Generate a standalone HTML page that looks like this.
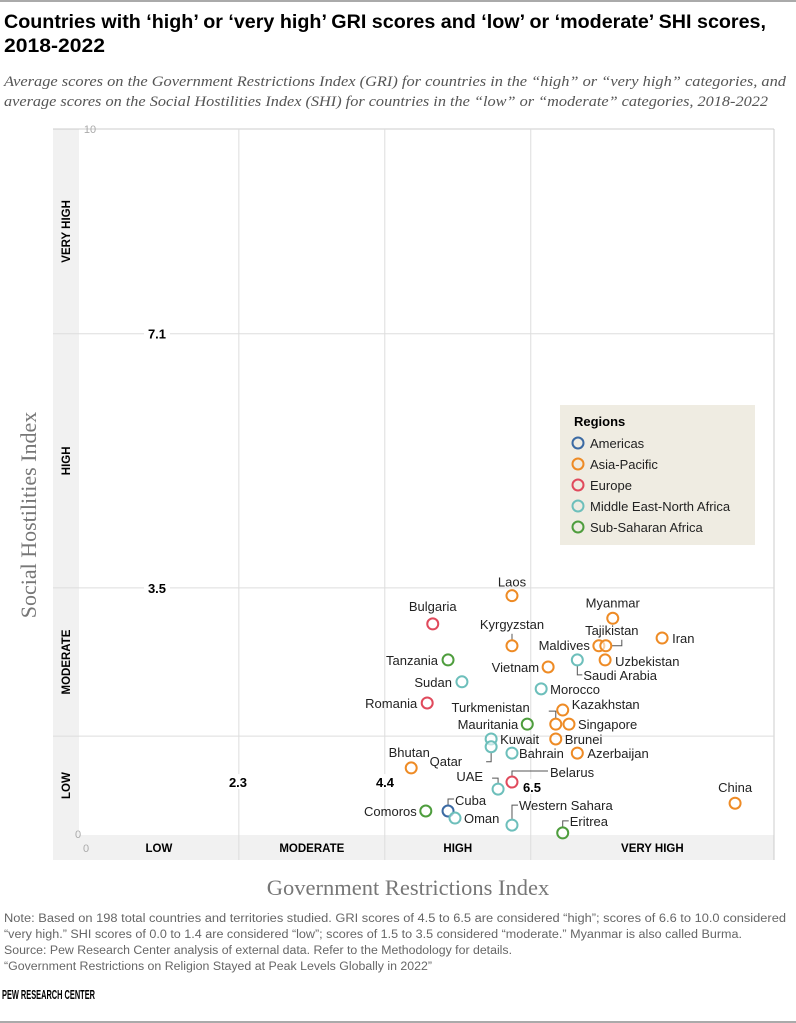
<!DOCTYPE html>
<html><head><meta charset="utf-8"><style>
body{margin:0;background:#fff;width:796px;height:1023px;overflow:hidden;font-family:"Liberation Sans",sans-serif}
svg{display:block}
</style></head><body>
<svg width="796" height="1023" viewBox="0 0 796 1023" xmlns="http://www.w3.org/2000/svg" id="chart">
<rect x="0" y="0" width="796" height="2" fill="#aaa"/>
<text x="4" y="28" font-size="19" font-weight="bold" fill="#000" textLength="762" lengthAdjust="spacingAndGlyphs">Countries with ‘high’ or ‘very high’ GRI scores and ‘low’ or ‘moderate’ SHI scores,</text>
<text x="4" y="52" font-size="19" font-weight="bold" fill="#000" textLength="101" lengthAdjust="spacingAndGlyphs">2018-2022</text>
<text x="4" y="86" font-family="Liberation Serif,serif" font-style="italic" font-size="14.5" fill="#555" textLength="782" lengthAdjust="spacingAndGlyphs">Average scores on the Government Restrictions Index (GRI) for countries in the “high” or “very high” categories, and</text>
<text x="4" y="106" font-family="Liberation Serif,serif" font-style="italic" font-size="14.5" fill="#555" textLength="764" lengthAdjust="spacingAndGlyphs">average scores on the Social Hostilities Index (SHI) for countries in the “low” or “moderate” categories, 2018-2022</text>
<g id="plot"></g>
<text x="4" y="922" font-size="11.5" fill="#666" textLength="782" lengthAdjust="spacingAndGlyphs">Note: Based on 198 total countries and territories studied. GRI scores of 4.5 to 6.5 are considered “high”; scores of 6.6 to 10.0 considered</text>
<text x="4" y="938" font-size="11.5" fill="#666" textLength="738" lengthAdjust="spacingAndGlyphs">“very high.” SHI scores of 0.0 to 1.4 are considered “low”; scores of 1.5 to 3.5 considered “moderate.” Myanmar is also called Burma.</text>
<text x="4" y="954" font-size="11.5" fill="#666" textLength="508" lengthAdjust="spacingAndGlyphs">Source: Pew Research Center analysis of external data. Refer to the Methodology for details.</text>
<text x="4" y="970" font-size="11.5" fill="#666" textLength="428" lengthAdjust="spacingAndGlyphs">“Government Restrictions on Religion Stayed at Peak Levels Globally in 2022”</text>
<text x="2" y="999" font-size="12.5" font-weight="bold" fill="#000" textLength="93" lengthAdjust="spacingAndGlyphs">PEW RESEARCH CENTER</text>
<rect x="0" y="1021" width="796" height="2" fill="#aaa"/>
</svg>
<script>
const countries=["Laos","Myanmar","Iran","Maldives","Tajikistan","Uzbekistan","Kyrgyzstan","Vietnam","Saudi Arabia","Morocco","Kazakhstan","Singapore","Turkmenistan","Mauritania","Brunei","Azerbaijan","Kuwait","Qatar","Bahrain","Belarus","UAE","Bulgaria","Tanzania","Sudan","Romania","Bhutan","Comoros","Cuba","Oman","Western Sahara","Eritrea","China"];
const griValues=[6.23,7.68,8.39,7.48,7.58,7.57,6.23,6.75,7.17,6.65,6.96,7.05,6.86,6.45,6.86,7.17,5.93,5.93,6.23,6.23,6.03,5.09,5.31,5.51,5.01,4.78,4.99,5.31,5.41,6.23,6.96,9.44];
const shiValues=[3.39,3.07,2.79,2.68,2.68,2.48,2.68,2.38,2.48,2.07,1.77,1.57,1.57,1.57,1.36,1.16,1.36,1.25,1.16,0.75,0.65,2.99,2.48,2.17,1.87,0.95,0.34,0.34,0.24,0.14,0.03,0.45];
const regions=["AP","AP","AP","AP","AP","AP","AP","AP","ME","ME","AP","AP","AP","SS","AP","AP","ME","ME","ME","EU","ME","EU","SS","ME","EU","AP","SS","AM","ME","ME","SS","AP"];
const regionNames=["Americas","Asia-Pacific","Europe","Middle East-North Africa","Sub-Saharan Africa"];
const regionKeys=["AM","AP","EU","ME","SS"];
const xCuts=[2.3,4.4,6.5];
const yCuts=[7.1,3.5,1.4];
const xBands=["LOW","MODERATE","HIGH","VERY HIGH"];
const yBands=["VERY HIGH","HIGH","MODERATE","LOW"];
// label style offsets [dx,dy,anchor]
const lab={"Laos":[0,-9,"middle"],"Myanmar":[0,-11,"middle"],"Iran":[10,5,"start"],"Maldives":[-9,4,"end"],"Tajikistan":[6,-11,"middle"],"Uzbekistan":[10,6,"start"],"Kyrgyzstan":[0,-17,"middle"],"Vietnam":[-9,5,"end"],"Saudi Arabia":[6,20,"start"],"Morocco":[9,5,"start"],"Kazakhstan":[9,-1,"start"],"Singapore":[9,5,"start"],"Turkmenistan":[-26,-12,"end"],"Mauritania":[-9,5,"end"],"Brunei":[9,5,"start"],"Azerbaijan":[10,5,"start"],"Kuwait":[9,5,"start"],"Qatar":[-29,19,"end"],"Bahrain":[7,5,"start"],"Belarus":[38,-5,"start"],"UAE":[-15,-8,"end"],"Bulgaria":[0,-13,"middle"],"Tanzania":[-10,5,"end"],"Sudan":[-10,5,"end"],"Romania":[-10,5,"end"],"Bhutan":[-2,-11,"middle"],"Comoros":[-9,5,"end"],"Cuba":[7,-6,"start"],"Oman":[9,5,"start"],"Western Sahara":[7,-15,"start"],"Eritrea":[7,-7,"start"],"China":[0,-11,"middle"]};
// leader line relative paths
const leaders={"Kyrgyzstan":"M0,-6 V-12","Tajikistan":"M6,0 H16 V-6","Saudi Arabia":"M0,6 V15 H5","Turkmenistan":"M0,-6 V-13 H-7","Qatar":"M0,6 V15 H-5","UAE":"M0,-6 V-11 H-6","Belarus":"M0,-6 V-11 H36","Cuba":"M0,-6 V-12 H6","Western Sahara":"M0,-6 V-20 H6","Eritrea":"M0,-6 V-12 H6"};
const colors={AM:"#3b6aa3",AP:"#ee8b25",EU:"#e04a5c",ME:"#6dbfbb",SS:"#4e9d3d"};
const NS="http://www.w3.org/2000/svg";
const X0=79,XK=69.5,Y0=835,YK=70.6;
const xs=v=>X0+v*XK, ys=v=>Y0-v*YK;
const g=document.getElementById('plot');
function mk(t,a,txt){const e=document.createElementNS(NS,t);for(const k in a)e.setAttribute(k,a[k]);if(txt!==undefined)e.textContent=txt;g.appendChild(e);return e;}
let e;
e=mk('rect',{x:53,y:ys(10),width:26,height:Y0-ys(10),fill:"#f1f1f1"});


e=mk('rect',{x:53,y:Y0,width:xs(10)-53,height:25,fill:"#f1f1f1"});


e=mk('line',{x1:53,y1:ys(10),x2:xs(10),y2:ys(10),stroke:"#ccc"});


e=mk('line',{x1:xs(10),y1:ys(10),x2:xs(10),y2:Y0+25,stroke:"#ccc"});


xCuts.forEach(v=>{e=mk('line',{x1:xs(v),y1:ys(10),x2:xs(v),y2:Y0+25,stroke:"#ddd"});

});
yCuts.forEach(v=>{e=mk('line',{x1:53,y1:ys(v),x2:xs(10),y2:ys(v),stroke:"#ddd"});

});
e=mk('text',{x:90,y:ys(10)+4,"font-size":11,fill:"#aaa","text-anchor":"middle"},"10");


e=mk('text',{x:78,y:Y0+3,"font-size":11,fill:"#aaa","text-anchor":"middle"},"0");


e=mk('text',{x:86,y:Y0+17,"font-size":11,fill:"#aaa","text-anchor":"middle"},"0");


[[157,ys(7.1),"7.1"],[157,ys(3.5),"3.5"],[238,ys(0.75),"2.3"],[385,ys(0.75),"4.4"],[532,ys(0.68),"6.5"]].forEach(([x,y,t])=>{
 e=mk('rect',{x:x-13,y:y-8,width:26,height:15,fill:"#fff"});
 
 
 e=mk('text',{x:x,y:y+5,"font-size":13,"font-weight":"bold",fill:"#000","text-anchor":"middle"},t);
 
 
});
const xEdges=[0,...xCuts,10];
xBands.forEach((b,i)=>{e=mk('text',{x:(xs(xEdges[i])+xs(xEdges[i+1]))/2,y:Y0+17,"font-size":11.5,"font-weight":"bold",fill:"#000","text-anchor":"middle"},b);

});
const yEdges=[10,...yCuts,0];
yBands.forEach((b,i)=>{const cy=(ys(yEdges[i])+ys(yEdges[i+1]))/2;e=mk('text',{x:70,y:cy,"font-size":11.5,"font-weight":"bold",fill:"#000","text-anchor":"middle",transform:`rotate(-90 70 ${cy})`},b);

});
e=mk('text',{x:408,y:895,"font-family":"Liberation Serif,serif","font-size":22.5,fill:"#777","text-anchor":"middle"},"Government Restrictions Index");


e=mk('text',{x:36,y:515,"font-family":"Liberation Serif,serif","font-size":22,fill:"#777","text-anchor":"middle",transform:"rotate(-90 36 515)"},"Social Hostilities Index");


// legend
e=mk('rect',{x:560,y:405,width:195,height:140,fill:"#efece2"});


e=mk('text',{x:574,y:426,"font-size":13,"font-weight":"bold",fill:"#000"},"Regions");


regionNames.forEach((n,i)=>{const y=443+i*21;
 e=mk('circle',{cx:578,cy:y,r:5.5,fill:"none",stroke:colors[regionKeys[i]],"stroke-width":2});
 
 
 e=mk('text',{x:590,y:y+5,"font-size":13,fill:"#222"},n);
 
 
});
countries.forEach((c,i)=>{
 const cx=xs(griValues[i]),cy=ys(shiValues[i]);
 if(leaders[c]){
  e=mk('path',{d:leaders[c],transform:`translate(${cx} ${cy})`,fill:"none",stroke:"#555","stroke-width":1});
  
  
 }
});
countries.forEach((c,i)=>{
 const cx=xs(griValues[i]),cy=ys(shiValues[i]);
 e=mk('circle',{cx:cx,cy:cy,r:5.5,fill:"#fff","fill-opacity":0.6,stroke:colors[regions[i]],"stroke-width":2});
 
 
 const l=lab[c];
 e=mk('text',{x:cx+l[0],y:cy+l[1],"font-size":13,fill:"#222","text-anchor":l[2]},c);
 
 
});
</script>
</body></html>
